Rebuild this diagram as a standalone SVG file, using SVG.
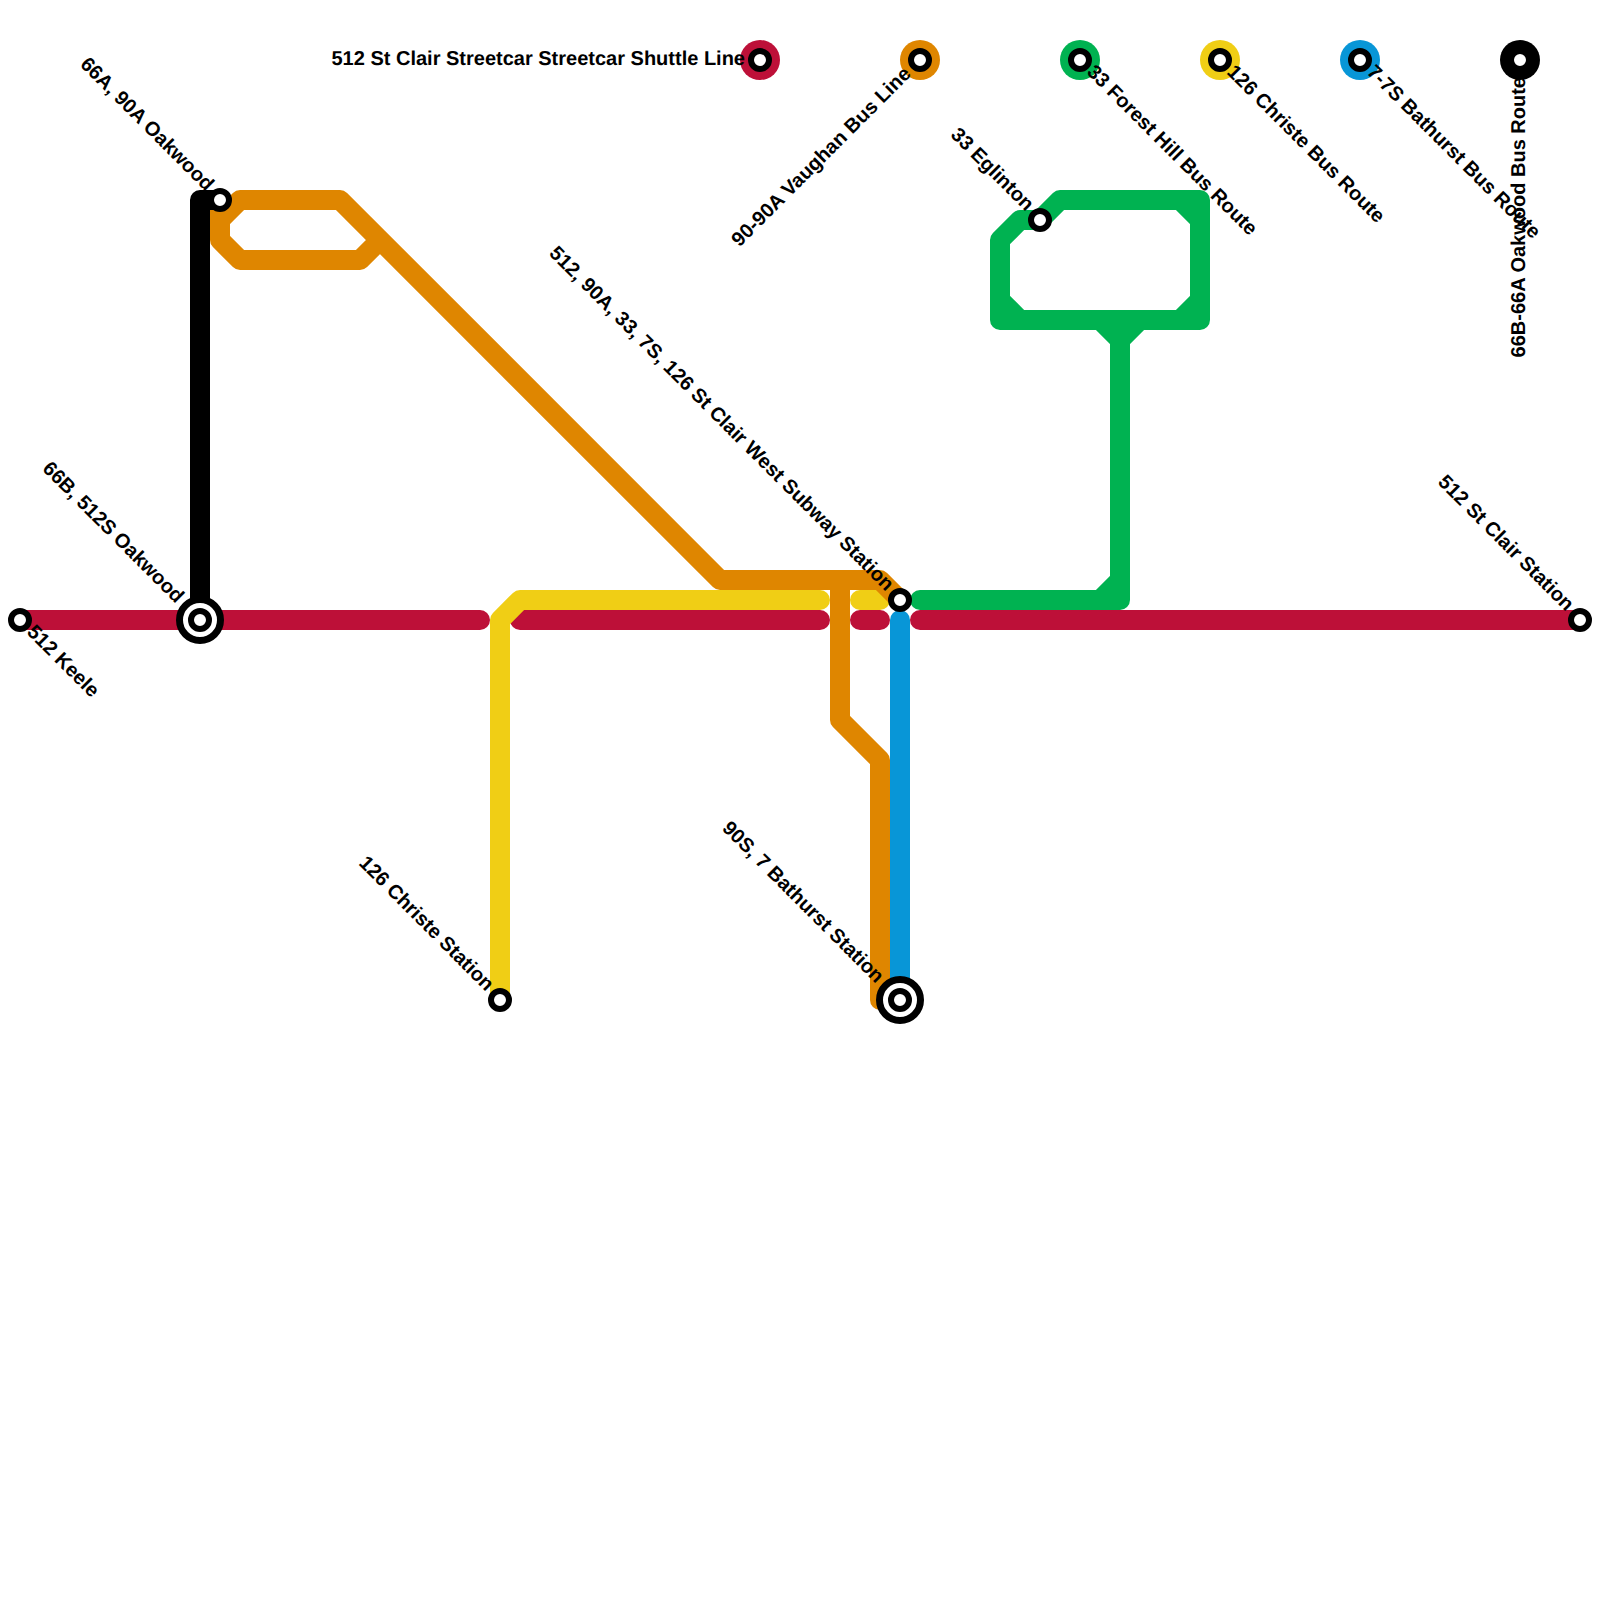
<svg xmlns="http://www.w3.org/2000/svg" width="1600" height="1600" viewBox="0 0 1600 1600">
<style>
.l{fill:none;stroke-width:20;stroke-linecap:round;stroke-linejoin:round}
.red{stroke:#bd1038}.org{stroke:#df8600}.grn{stroke:#00b251}.yel{stroke:#f0ce15}.blu{stroke:#0896d7}.blk{stroke:#000}
.s{fill:#fff;stroke:#000;stroke-width:6}
.o{fill:#fff;stroke:#000;stroke-width:7}
text{font-family:"Liberation Sans",Arial,sans-serif;font-size:20px;font-weight:bold;fill:#000;text-rendering:geometricPrecision}
.e{text-anchor:end}
</style>
<rect width="1600" height="1600" fill="#fff"/>
<g id="connectors">
<path class="l red" d="M20 620H480M520 620H820M860 620H880M920 620H1580"/>
<path class="l yel" d="M500 1000V620L520 600H820M860 600H880"/>
<path class="l org" d="M220 200H220V240L240 260H360L380 240M220 220L240 200H340L720 580H880L900 600M840 580V720L880 760V1000H900"/>
<path class="l grn" d="M920 600H1120V340M920 600H1100L1120 580M1100 320L1120 340L1140 320M1040 220L1060 200H1200V320H1000V240L1020 220H1040M1000 300L1020 320H1180L1200 300V220L1180 200"/>
<path class="l blu" d="M900 620V1000"/>
<path class="l blk" d="M220 200H200V620"/>
</g>
<g id="legend-red"><circle cx="760" cy="60" r="20" fill="#bd1038"/><circle class="s" cx="760" cy="60" r="9"/><text class="e" x="745" y="65">512 St Clair Streetcar Streetcar Shuttle Line</text></g>
<g id="legend-orange"><circle cx="920" cy="60" r="20" fill="#df8600"/><circle class="s" cx="920" cy="60" r="9"/><text class="e" transform="translate(912,75) rotate(-45)">90-90A Vaughan Bus Line</text></g>
<g id="legend-green"><circle cx="1080" cy="60" r="20" fill="#00b251"/><circle class="s" cx="1080" cy="60" r="9"/><text transform="translate(1086,73) rotate(45)">33 Forest Hill Bus Route</text></g>
<g id="legend-yellow"><circle cx="1220" cy="60" r="20" fill="#f0ce15"/><circle class="s" cx="1220" cy="60" r="9"/><text transform="translate(1226,73) rotate(45)">126 Christe Bus Route</text></g>
<g id="legend-blue"><circle cx="1360" cy="60" r="20" fill="#0896d7"/><circle class="s" cx="1360" cy="60" r="9"/><text transform="translate(1366,73) rotate(45)">7-7S Bathurst Bus Route</text></g>
<g id="legend-black"><circle cx="1520" cy="60" r="20" fill="#000"/><circle class="s" cx="1520" cy="60" r="9"/><text class="e" transform="translate(1525,77) rotate(-90)">66B-66A Oakwood Bus Route</text></g>
<g id="st-keele"><circle class="s" cx="20" cy="620" r="9"/><text transform="translate(26,633) rotate(45)">512 Keele</text></g>
<g id="st-oakwood-66b"><circle class="o" cx="200" cy="620" r="20.5"/><circle class="s" cx="200" cy="620" r="9"/><text class="e" transform="translate(176,604) rotate(45)">66B, 512S Oakwood</text></g>
<g id="st-oakwood-66a"><circle class="s" cx="220" cy="200" r="9"/><text class="e" transform="translate(206,192) rotate(45)">66A, 90A Oakwood</text></g>
<g id="st-christie"><circle class="s" cx="500" cy="1000" r="9"/><text class="e" transform="translate(486,992) rotate(45)">126 Christe Station</text></g>
<g id="st-stclair-west"><circle class="s" cx="900" cy="600" r="9"/><text class="e" transform="translate(886,592) rotate(45)">512, 90A, 33, 7S, 126 St Clair West Subway Station</text></g>
<g id="st-bathurst"><circle class="o" cx="900" cy="1000" r="20.5"/><circle class="s" cx="900" cy="1000" r="9"/><text class="e" transform="translate(876,984) rotate(45)">90S, 7 Bathurst Station</text></g>
<g id="st-eglinton"><circle class="s" cx="1040" cy="220" r="9"/><text class="e" transform="translate(1026,212) rotate(45)">33 Eglinton</text></g>
<g id="st-stclair"><circle class="s" cx="1580" cy="620" r="9"/><text class="e" transform="translate(1566,612) rotate(45)">512 St Clair Station</text></g>
</svg>
